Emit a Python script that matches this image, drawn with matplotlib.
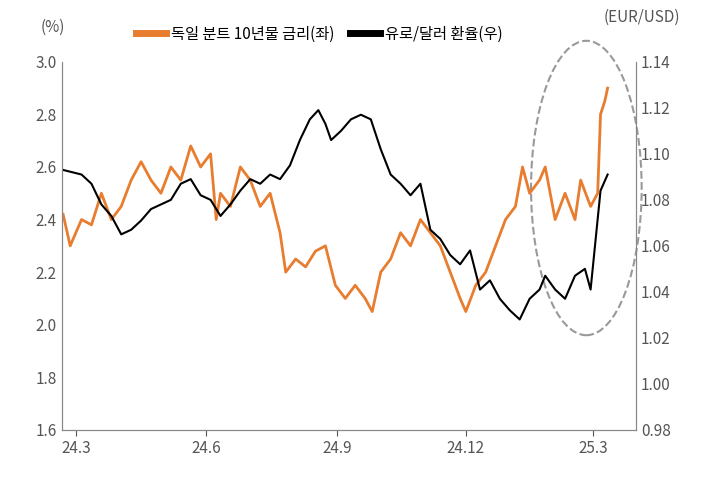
import matplotlib.pyplot as plt
from matplotlib.patches import Ellipse
from matplotlib.lines import Line2D

plt.rcParams['font.family'] = ['Noto Sans CJK KR', 'Noto Sans CJK JP', 'Noto Sans CJK SC', 'DejaVu Sans']

# days since 2024-03-01
bund_days = [-9, -4, 4, 11, 18, 25, 32, 39, 46, 53, 60, 67, 74, 81, 88, 95, 99, 102, 109, 116,
             123, 130, 137, 144, 148, 155, 162, 169, 176, 183, 190, 197, 204, 209, 215, 222, 229, 236, 243, 250,
             257, 264, 271, 275, 282, 289, 296, 303, 310, 315, 320, 327, 331, 338, 345, 352, 356, 363, 368, 370,
             373, 375]
bund_10y = [2.42, 2.30, 2.40, 2.38, 2.50, 2.40, 2.45, 2.55, 2.62, 2.55, 2.50, 2.60, 2.55, 2.68, 2.60, 2.65, 2.40, 2.50, 2.45, 2.60,
            2.55, 2.45, 2.50, 2.35, 2.20, 2.25, 2.22, 2.28, 2.30, 2.15, 2.10, 2.15, 2.10, 2.05, 2.20, 2.25, 2.35, 2.30, 2.40, 2.35,
            2.30, 2.20, 2.10, 2.05, 2.15, 2.20, 2.30, 2.40, 2.45, 2.60, 2.50, 2.55, 2.60, 2.40, 2.50, 2.40, 2.55, 2.45, 2.50, 2.80,
            2.85, 2.90]

fx_days = [-9, 4, 11, 18, 25, 32, 39, 46, 53, 60, 67, 74, 81, 88, 95, 102, 109, 116, 123, 130,
           137, 144, 151, 158, 165, 171, 176, 180, 187, 194, 201, 208, 215, 222, 229, 236, 243, 250, 257, 264,
           271, 278, 285, 292, 299, 306, 313, 320, 327, 331, 338, 345, 352, 359, 363, 370, 375]
eurusd = [1.093, 1.091, 1.087, 1.078, 1.073, 1.065, 1.067, 1.071, 1.076, 1.078, 1.080, 1.087, 1.089, 1.082, 1.080, 1.073, 1.078, 1.084, 1.089, 1.087,
          1.091, 1.089, 1.095, 1.106, 1.115, 1.119, 1.113, 1.106, 1.110, 1.115, 1.117, 1.115, 1.102, 1.091, 1.087, 1.082, 1.087, 1.067, 1.063, 1.056,
          1.052, 1.058, 1.041, 1.045, 1.037, 1.032, 1.028, 1.037, 1.041, 1.047, 1.041, 1.037, 1.047, 1.050, 1.041, 1.084, 1.091]

tick_days = [0, 92, 184, 275, 365]
tick_labels = ['24.3', '24.6', '24.9', '24.12', '25.3']
series_names = ['독일 분트 10년물 금리(좌)', '유로/달러 환율(우)']

orange = '#E87D2F'
grey = '#555555'
fig = plt.figure(figsize=(7.09, 4.83), dpi=100)
ax = fig.add_axes([0.087, 0.11, 0.81, 0.762])
ax2 = ax.twinx()

ax.plot(bund_days, bund_10y, color=orange, lw=2)
ax2.plot(fx_days, eurusd, color='black', lw=1.5)

ax.set_xlim(-10, 395)
ax.set_ylim(1.6, 3.0)
ax2.set_ylim(0.98, 1.14)
ax.set_yticks([1.6, 1.8, 2.0, 2.2, 2.4, 2.6, 2.8, 3.0])
ax.set_yticklabels([f'{v:.1f}' for v in ax.get_yticks()])
ax2.set_yticks([0.98, 1.00, 1.02, 1.04, 1.06, 1.08, 1.10, 1.12, 1.14])
ax2.set_yticklabels([f'{v:.2f}' for v in ax2.get_yticks()])
ax.set_xticks(tick_days)
ax.set_xticklabels(tick_labels)

for a in (ax, ax2):
    a.spines['top'].set_visible(False)
    for s in ('left', 'right', 'bottom'):
        a.spines[s].set_color('#888888')
    a.tick_params(colors=grey, labelsize=11, length=0)
    a.tick_params(axis='x', length=4)

ell = Ellipse((360, 2.52), 78, 1.12, fill=False, ls='--', lw=1.5, color='#999999', clip_on=False)
ax.add_patch(ell)

fig.text(0.075, 0.935, '(%)', color=grey, fontsize=11, ha='center')
fig.text(0.905, 0.955, '(EUR/USD)', color=grey, fontsize=11, ha='center')
handles = [Line2D([], [], color=orange, lw=5), Line2D([], [], color='black', lw=5)]
fig.legend(handles=handles, labels=series_names, loc='upper center', bbox_to_anchor=(0.45, 0.975), ncol=2,
           frameon=False, fontsize=11, handlelength=2.0, handletextpad=0.3, columnspacing=1.0)

fig.savefig('out.png', dpi=100)
